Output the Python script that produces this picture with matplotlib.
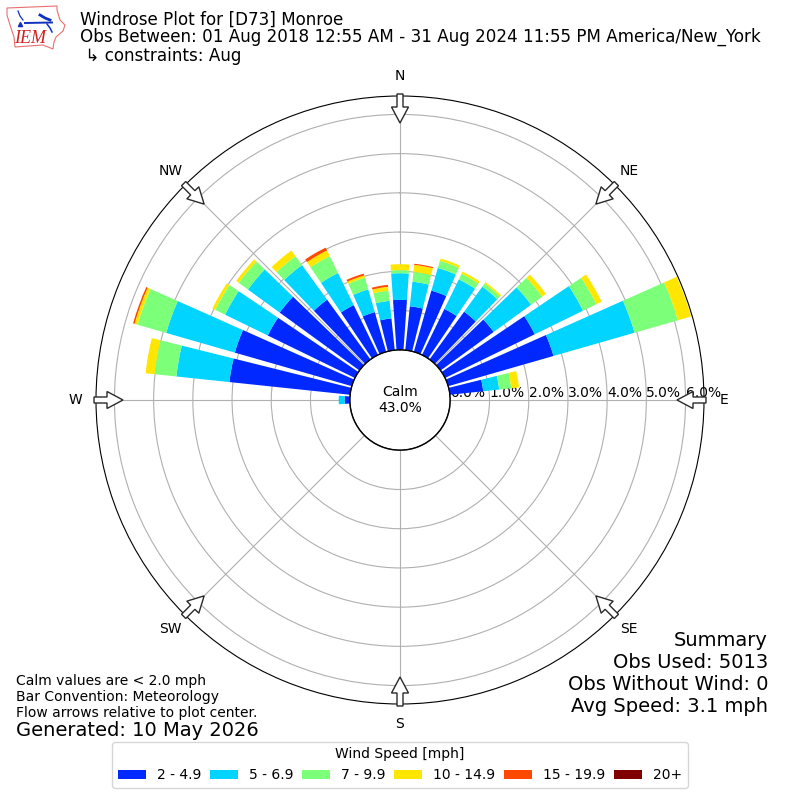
import numpy as np
import matplotlib
matplotlib.use("Agg")
import matplotlib.pyplot as plt
from matplotlib.patches import Polygon

# wind direction (deg) and share of obs (%) per speed bin
directions = [270, 280, 290, 300, 310, 320, 330, 340, 350, 0, 10, 20, 30, 40, 50, 60, 70, 80]
bin_2_5 = [0.13, 3.09, 3.10, 2.47, 2.51, 1.88, 1.41, 1.05, 0.81, 1.27, 1.12, 1.62, 1.30, 1.50, 1.67, 2.54, 2.79, 0.85]
bin_5_7 = [0.15, 1.36, 1.82, 1.21, 1.00, 1.09, 0.91, 0.60, 0.45, 0.68, 0.63, 0.60, 0.84, 0.79, 1.18, 1.37, 2.15, 0.41]
bin_7_10 = [0.00, 0.56, 0.76, 0.28, 0.29, 0.28, 0.48, 0.31, 0.26, 0.08, 0.25, 0.19, 0.16, 0.10, 0.35, 0.38, 1.15, 0.31]
bin_10_15 = [0.00, 0.23, 0.08, 0.08, 0.08, 0.18, 0.16, 0.06, 0.10, 0.15, 0.18, 0.06, 0.06, 0.04, 0.12, 0.15, 0.35, 0.20]
bin_15_20 = [0.00, 0.00, 0.04, 0.00, 0.00, 0.00, 0.08, 0.05, 0.05, 0.00, 0.03, 0.00, 0.00, 0.00, 0.00, 0.00, 0.00, 0.00]
bin_20_up = [0.00] * 18

bins = [bin_2_5, bin_5_7, bin_7_10, bin_10_15, bin_15_20, bin_20_up]
bin_labels = ["2 - 4.9", "5 - 6.9", "7 - 9.9", "10 - 14.9", "15 - 19.9", "20+"]
colors = ["#0028ff", "#00d4ff", "#7cff79", "#ffe600", "#ff4800", "#800000"]

r_ticks = [0, 1, 2, 3, 4, 5, 6]
compass = ["N", "NE", "E", "SE", "S", "SW", "W", "NW"]
summary = ["Summary", "Obs Used: 5013", "Obs Without Wind: 0", "Avg Speed: 3.1 mph"]

fig = plt.figure(figsize=(8, 8), dpi=100)

# calm circle goes under the polar axes so the 0.0% label stays readable
calm = fig.add_axes([350 / 800, 350 / 800, 100 / 800, 100 / 800], zorder=1)
calm.set_xlim(-1, 1)
calm.set_ylim(-1, 1)
calm.axis("off")
calm.add_patch(plt.Circle((0, 0), 1.0, facecolor="white", edgecolor="black", linewidth=0.8))
calm.text(0, 0, "Calm\n43.0%", ha="center", va="center", fontsize=10)

ax = fig.add_axes([96 / 800, 96 / 800, 608 / 800, 608 / 800], projection="polar", zorder=2)
ax.patch.set_alpha(0)
ax.set_theta_zero_location("N")
ax.set_theta_direction(-1)
ax.set_rorigin(-1.283)
ax.set_ylim(0, 6.47)
ax.set_axisbelow(True)

theta = np.deg2rad(directions)
bottom = np.zeros(len(directions))
for vals, col, lab in zip(bins, colors, bin_labels):
    ax.bar(theta, vals, width=np.deg2rad(8), bottom=bottom, color=col, label=lab, linewidth=0)
    bottom += np.array(vals)

ax.set_thetagrids(np.arange(0, 360, 45), compass)
ax.tick_params(axis="x", pad=4)
ax.set_yticks(r_ticks)
ax.set_yticklabels([f"{t:.1f}%" for t in r_ticks])
ax.set_rlabel_position(90)
for lab in ax.get_yticklabels():
    lab.set_va("bottom")
ax.grid(True, color="#b0b0b0", linewidth=0.8)

# flow arrows and logo, fig pixel coords
over = fig.add_axes([0, 0, 1, 1], zorder=3)
over.set_xlim(0, 800)
over.set_ylim(800, 0)
over.axis("off")
over.patch.set_alpha(0)
for deg in np.arange(0, 360, 45):
    a = np.deg2rad(deg)
    ux, uy = np.sin(a), -np.cos(a)
    vx, vy = -uy, ux
    shape = [(306, 3), (293, 3), (293, 8.5), (277, 0), (293, -8.5), (293, -3), (306, -3)]
    pts = [(400 + r * ux + w * vx, 400 + r * uy + w * vy) for r, w in shape]
    over.add_patch(Polygon(pts, closed=True, facecolor="white", edgecolor="#2a2a2a", linewidth=1))

# IEM logo
iowa = [(7, 8), (57, 6), (57, 10), (60, 20), (65, 25), (63, 31), (56, 37), (54, 42), (53, 49),
        (43, 45), (15, 47), (14, 37), (10, 25), (7, 15)]
over.add_patch(Polygon(iowa, closed=True, facecolor="white", edgecolor="#e87070", linewidth=0.8))
over.plot([25, 52], [23, 22.5], color="#1030c0", linewidth=1.4)
over.plot([18, 20, 23], [11, 16, 20], color="#1030c0", linewidth=0.9)
over.plot([40, 45, 50], [15, 18, 20], color="#1030c0", linewidth=2)
over.plot([47, 50, 52], [24, 28, 32], color="#1030c0", linewidth=1.1)
over.plot([20], [23.5], marker="^", color="#1030c0", markersize=3)
over.text(30, 38.5, "IEM", color="#d02020", fontsize=13, family="Liberation Serif",
          style="italic", ha="center", va="center")

fig.text(80 / 800, 1 - 25 / 800, "Windrose Plot for [D73] Monroe", fontsize=12.02, va="baseline")
fig.text(80 / 800, 1 - 42 / 800, "Obs Between: 01 Aug 2018 12:55 AM - 31 Aug 2024 11:55 PM America/New_York",
         fontsize=12.02, va="baseline")
fig.text(80 / 800, 1 - 61 / 800, " \u21b3 constraints: Aug", fontsize=12.02, va="baseline")

for i, line in enumerate(summary):
    fig.text(768 / 800, 1 - (646 + 22 * i) / 800, line, fontsize=14, ha="right", va="baseline")
fig.text(16 / 800, 1 - 717 / 800, "Calm values are < 2.0 mph\nBar Convention: Meteorology\nFlow arrows relative to plot center.",
         fontsize=10, va="baseline")
fig.text(16 / 800, 1 - 736 / 800, "Generated: 10 May 2026", fontsize=14, va="baseline")

handles, labels = ax.get_legend_handles_labels()
fig.legend(handles, labels, title="Wind Speed [mph]", ncol=6, loc="lower center",
           bbox_to_anchor=(0.5, 0.0065), fontsize=10, title_fontsize=10,
           columnspacing=0.635).set_zorder(5)

fig.savefig("out.png", dpi=100)
